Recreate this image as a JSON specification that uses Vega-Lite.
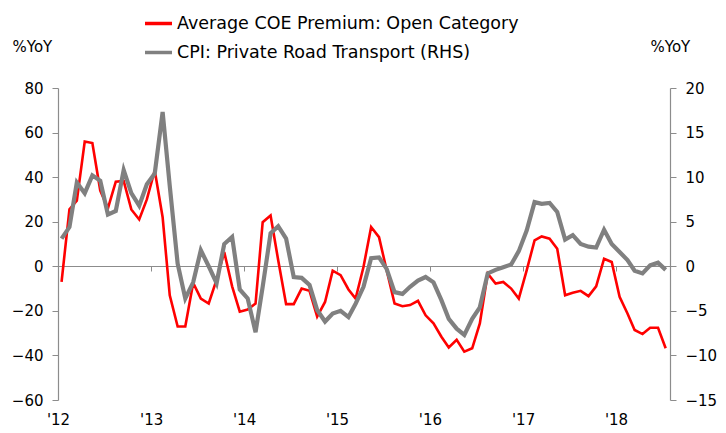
{
  "$schema": "https://vega.github.io/schema/vega-lite/v6.json",
  "width": 612,
  "height": 312,
  "autosize": "none",
  "padding": {"left": 58, "top": 88, "right": 56, "bottom": 33},
  "background": "white",
  "config": {
    "view": {"stroke": null},
    "font": "DejaVu Sans",
    "axis": {"labelFont": "DejaVu Sans", "labelFontSize": 15, "labelColor": "#000", "domainColor": "#8c8c8c", "tickColor": "#8c8c8c", "grid": false, "titleFont": "DejaVu Sans", "titleFontWeight": "normal", "titleFontSize": 15, "titleColor": "#000", "tickSize": 6, "domainWidth": 1.2}
  },
  "data": {"values": [
    {"date": "2012-01-15", "coe": -7, "cpi": 3.1},
    {"date": "2012-02-15", "coe": 25.6, "cpi": 4.4},
    {"date": "2012-03-15", "coe": 29.4, "cpi": 9.4},
    {"date": "2012-04-15", "coe": 56, "cpi": 8.2},
    {"date": "2012-05-15", "coe": 55.3, "cpi": 10.2},
    {"date": "2012-06-15", "coe": 34, "cpi": 9.6},
    {"date": "2012-07-15", "coe": 26, "cpi": 5.8},
    {"date": "2012-08-15", "coe": 38, "cpi": 6.2},
    {"date": "2012-09-15", "coe": 38.3, "cpi": 10.8},
    {"date": "2012-10-15", "coe": 25.5, "cpi": 8.2},
    {"date": "2012-11-15", "coe": 21, "cpi": 6.8},
    {"date": "2012-12-15", "coe": 30, "cpi": 9.2},
    {"date": "2013-01-15", "coe": 43, "cpi": 10.4},
    {"date": "2013-02-15", "coe": 22, "cpi": 17.3},
    {"date": "2013-03-15", "coe": -13, "cpi": 9},
    {"date": "2013-04-15", "coe": -27, "cpi": 0.3},
    {"date": "2013-05-15", "coe": -27, "cpi": -3.6},
    {"date": "2013-06-15", "coe": -7.5, "cpi": -1.8},
    {"date": "2013-07-15", "coe": -14.5, "cpi": 1.8},
    {"date": "2013-08-15", "coe": -16.7, "cpi": 0},
    {"date": "2013-09-15", "coe": -6, "cpi": -1.9},
    {"date": "2013-10-15", "coe": 6.4, "cpi": 2.5},
    {"date": "2013-11-15", "coe": -9, "cpi": 3.3},
    {"date": "2013-12-15", "coe": -20.4, "cpi": -2.6},
    {"date": "2014-01-15", "coe": -19.4, "cpi": -3.6},
    {"date": "2014-02-15", "coe": -16.7, "cpi": -7.4},
    {"date": "2014-03-15", "coe": 19.8, "cpi": -2.3},
    {"date": "2014-04-15", "coe": 22.8, "cpi": 3.7},
    {"date": "2014-05-15", "coe": 2.7, "cpi": 4.5},
    {"date": "2014-06-15", "coe": -17, "cpi": 3.1},
    {"date": "2014-07-15", "coe": -17, "cpi": -1.2},
    {"date": "2014-08-15", "coe": -10, "cpi": -1.3},
    {"date": "2014-09-15", "coe": -11, "cpi": -2.1},
    {"date": "2014-10-15", "coe": -22.6, "cpi": -4.9},
    {"date": "2014-11-15", "coe": -16, "cpi": -6.2},
    {"date": "2014-12-15", "coe": -2, "cpi": -5.3},
    {"date": "2015-01-15", "coe": -4, "cpi": -5},
    {"date": "2015-02-15", "coe": -10.4, "cpi": -5.7},
    {"date": "2015-03-15", "coe": -14.5, "cpi": -4.2},
    {"date": "2015-04-15", "coe": -0.3, "cpi": -2.3},
    {"date": "2015-05-15", "coe": 17.6, "cpi": 0.9},
    {"date": "2015-06-15", "coe": 13.1, "cpi": 1.0},
    {"date": "2015-07-15", "coe": -1.8, "cpi": -0.3},
    {"date": "2015-08-15", "coe": -16.7, "cpi": -2.9},
    {"date": "2015-09-15", "coe": -17.9, "cpi": -3.1},
    {"date": "2015-10-15", "coe": -17.4, "cpi": -2.3},
    {"date": "2015-11-15", "coe": -15.5, "cpi": -1.6},
    {"date": "2015-12-15", "coe": -22, "cpi": -1.2},
    {"date": "2016-01-15", "coe": -25.6, "cpi": -1.8},
    {"date": "2016-02-15", "coe": -31.6, "cpi": -3.8},
    {"date": "2016-03-15", "coe": -36.4, "cpi": -5.9},
    {"date": "2016-04-15", "coe": -33, "cpi": -7},
    {"date": "2016-05-15", "coe": -38.3, "cpi": -7.7},
    {"date": "2016-06-15", "coe": -36.8, "cpi": -5.9},
    {"date": "2016-07-15", "coe": -25.6, "cpi": -4.6},
    {"date": "2016-08-15", "coe": -3.3, "cpi": -0.8},
    {"date": "2016-09-15", "coe": -7.7, "cpi": -0.4},
    {"date": "2016-10-15", "coe": -7, "cpi": -0.1},
    {"date": "2016-11-15", "coe": -10, "cpi": 0.2},
    {"date": "2016-12-15", "coe": -14.5, "cpi": 1.7},
    {"date": "2017-01-15", "coe": -1.8, "cpi": 4.0},
    {"date": "2017-02-15", "coe": 11.6, "cpi": 7.2},
    {"date": "2017-03-15", "coe": 13.4, "cpi": 7.0},
    {"date": "2017-04-15", "coe": 12.4, "cpi": 7.1},
    {"date": "2017-05-15", "coe": 7.9, "cpi": 6.1},
    {"date": "2017-06-15", "coe": -13, "cpi": 3.0},
    {"date": "2017-07-15", "coe": -11.9, "cpi": 3.5},
    {"date": "2017-08-15", "coe": -11, "cpi": 2.5},
    {"date": "2017-09-15", "coe": -13.4, "cpi": 2.2},
    {"date": "2017-10-15", "coe": -9, "cpi": 2.1},
    {"date": "2017-11-15", "coe": 3.4, "cpi": 4.1},
    {"date": "2017-12-15", "coe": 1.9, "cpi": 2.5},
    {"date": "2018-01-15", "coe": -13.7, "cpi": 1.6},
    {"date": "2018-02-15", "coe": -21.2, "cpi": 0.7},
    {"date": "2018-03-15", "coe": -28.6, "cpi": -0.5},
    {"date": "2018-04-15", "coe": -30.4, "cpi": -0.8},
    {"date": "2018-05-15", "coe": -27.6, "cpi": 0.1},
    {"date": "2018-06-15", "coe": -27.6, "cpi": 0.4},
    {"date": "2018-07-15", "coe": -36.8, "cpi": -0.4}
  ]},
  "encoding": {
    "x": {
      "field": "date", "type": "temporal",
      "scale": {"type": "utc", "domain": [{"year": 2012, "month": 1, "date": 1, "utc": true}, {"year": 2018, "month": 8, "date": 1, "utc": true}]},
      "axis": {"title": null, "format": "'%y", "tickCount": {"interval": "year", "step": 1}, "offset": -134, "tickSize": 5, "labelPadding": 141, "labelFontSize": 15, "labelFlush": false}
    }
  },
  "layer": [
    {
      "mark": {"type": "line", "strokeWidth": 2.6},
      "encoding": {
        "y": {"field": "coe", "type": "quantitative", "scale": {"domain": [-60, 80], "nice": false, "zero": false},
          "axis": {"values": [-60, -40, -20, 0, 20, 40, 60, 80], "title": "%YoY", "titleAngle": 0, "titleAlign": "left", "titleBaseline": "middle", "titleX": -46, "titleY": -42, "labelPadding": 9}},
        "color": {"datum": "Average COE Premium: Open Category",
          "scale": {"domain": ["Average COE Premium: Open Category", "CPI: Private Road Transport (RHS)"], "range": ["#ff0000", "#808080"]},
          "legend": {"title": null, "orient": "none", "legendX": 85, "legendY": -80, "direction": "vertical", "symbolType": "stroke", "symbolSize": 729, "symbolStrokeWidth": 3.5, "labelFontSize": 17.5, "labelFont": "DejaVu Sans", "labelColor": "#000", "labelOffset": 3, "labelLimit": 0, "rowPadding": 5}}
      }
    },
    {
      "mark": {"type": "line", "strokeWidth": 4.2},
      "encoding": {
        "y": {"field": "cpi", "type": "quantitative", "scale": {"domain": [-15, 20], "nice": false, "zero": false},
          "axis": {"orient": "right", "values": [-15, -10, -5, 0, 5, 10, 15, 20], "title": "%YoY", "titleAngle": 0, "titleAlign": "left", "titleBaseline": "middle", "titleX": -20, "titleY": -42, "labelPadding": 9}},
        "color": {"datum": "CPI: Private Road Transport (RHS)"}
      }
    }
  ],
  "resolve": {"scale": {"y": "independent"}}
}
